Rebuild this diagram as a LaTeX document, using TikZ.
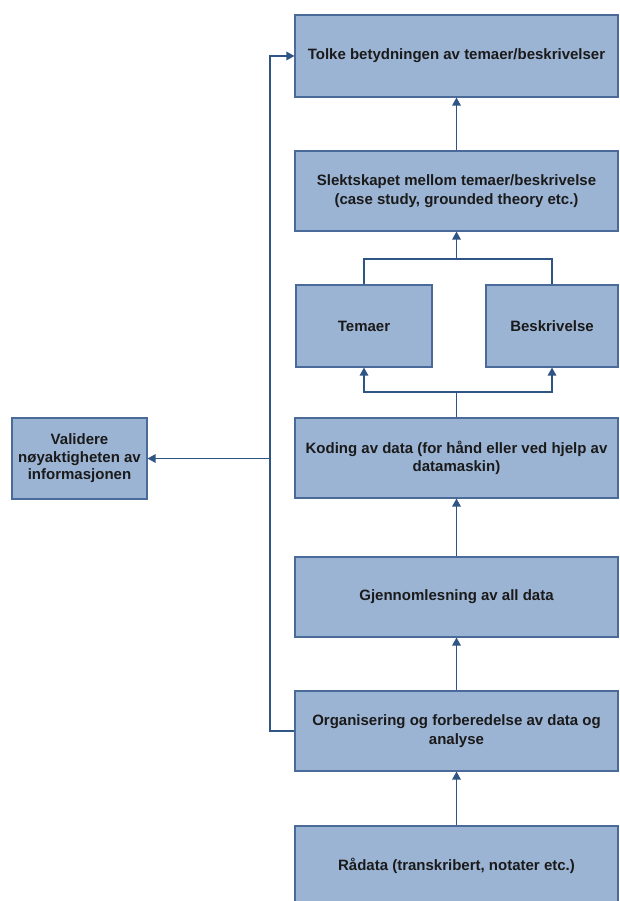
\documentclass[tikz,border=0pt]{standalone}
\usepackage{fontspec}
\setmainfont{Liberation Sans}
\usetikzlibrary{arrows.meta}
\definecolor{boxfill}{HTML}{9CB4D4}
\definecolor{boxline}{HTML}{4A6A99}
\definecolor{conn}{HTML}{2E5583}
\definecolor{txt}{HTML}{1A1A1A}
\tikzset{
  box/.style={draw=boxline, fill=boxfill, line width=1.1pt, minimum height=80pt,
    align=center, inner sep=0pt, text=txt,
    font=\fontsize{15}{18.5}\selectfont\bfseries},
  wide/.style={box, minimum width=323pt},
  conline/.style={draw=conn, line width=1.4pt},
  arr/.style={conline, -{Triangle[length=8pt,width=8.5pt]}}
}
\begin{document}
\begin{tikzpicture}[x=1pt,y=-1pt]
\useasboundingbox (0,0) rectangle (619,901);
\clip (0,0) rectangle (619,901);
\node[wide, minimum height=82pt] (tolke) at (456.5,56) {Tolke betydningen av temaer/beskrivelser};
\node[wide] (slekt) at (456.5,191) {Slektskapet mellom temaer/beskrivelse\\(case study, grounded theory etc.)};
\node[box, minimum width=136pt, minimum height=82pt] (temaer) at (364,326) {Temaer};
\node[box, minimum width=132pt, minimum height=82pt] (beskr) at (552,326) {Beskrivelse};
\node[wide] (koding) at (456.5,458) {Koding av data (for hånd eller ved hjelp av\\datamaskin)};
\node[wide] (gjenn) at (456.5,597) {Gjennomlesning av all data};
\node[wide] (org) at (456.5,731) {Organisering og forberedelse av data og\\analyse};
\node[wide] (raa) at (456.5,866) {Rådata (transkribert, notater etc.)};
\node[box, minimum width=135pt, minimum height=81pt, font=\fontsize{15}{17.5}\selectfont\bfseries] (valid) at (79.5,458.5) {Validere\\nøyaktigheten av\\informasjonen};

\coordinate (vl) at (270,458.5);
\coordinate (split) at (456.5,392);
\coordinate (join) at (456.5,259);

\draw[arr] (raa.north) -- (org.south);
\draw[arr] (org.north) -- (gjenn.south);
\draw[arr] (gjenn.north) -- (koding.south);
\draw[conline] (koding.north) -- (split);
\draw[arr] (split) -| (temaer.south);
\draw[arr] (split) -| (beskr.south);
\draw[conline] (temaer.north) |- (join);
\draw[conline] (beskr.north) |- (join);
\draw[arr] (join) -- (slekt.south);
\draw[arr] (slekt.north) -- (tolke.south);
\draw[arr] (org.west) -| (vl) |- (tolke.west);
\draw[arr] (vl) -- (valid.east);
\end{tikzpicture}
\end{document}
